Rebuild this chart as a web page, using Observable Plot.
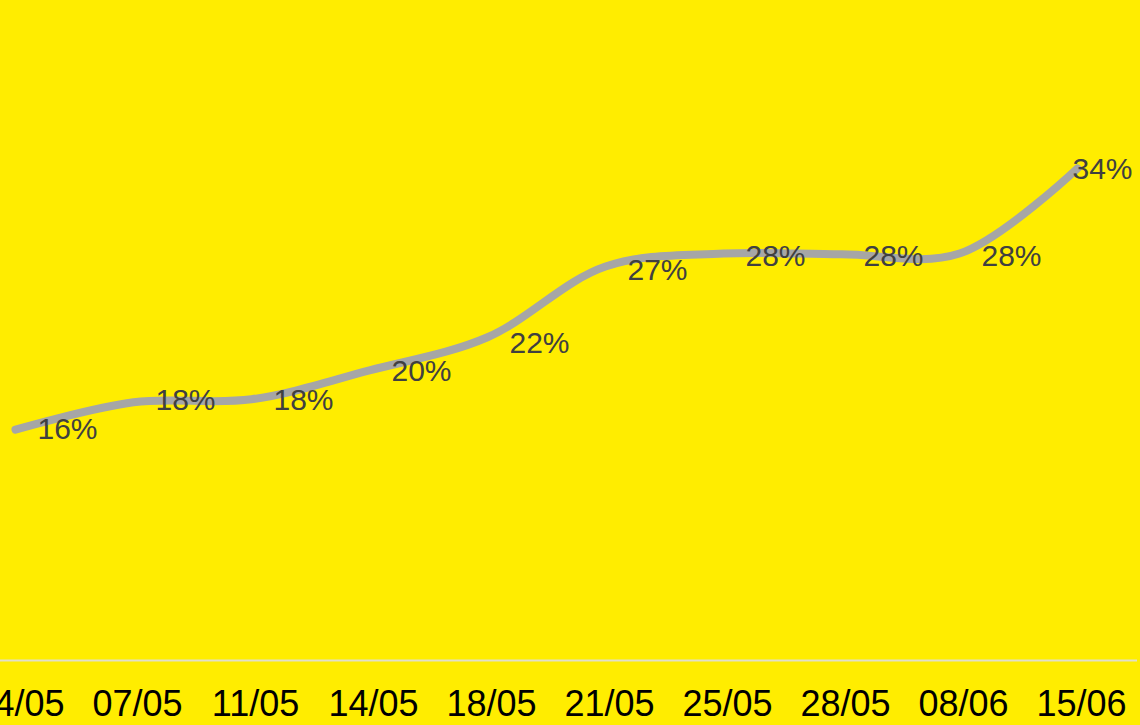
<!DOCTYPE html>
<html>
<head>
<meta charset="utf-8">
<script src="https://cdn.jsdelivr.net/npm/d3@7"></script>
<script src="https://cdn.jsdelivr.net/npm/@observablehq/plot@0.6"></script>
<style>
  html, body { margin: 0; padding: 0; background: #ffed00; overflow: hidden; }
  #chart { width: 1140px; height: 725px; }
</style>
</head>
<body>
<div id="chart"></div>
<script>
const dates = ["04/05","07/05","11/05","14/05","18/05","21/05","25/05","28/05","08/06","15/06"];
const values = [16.0, 17.9, 18.1, 20.1, 22.4, 27.3, 28.2, 28.15, 28.2, 34.1];
const labels = ["16%","18%","18%","20%","22%","27%","28%","28%","28%","34%"];
const labelValues = [16, 18, 18, 20, 22, 27, 28, 28, 28, 34];

const data = dates.map((d, i) => ({date: d, value: values[i], label: labels[i], labelValue: labelValues[i], i}));
const last = data.length - 1;

const chart = Plot.plot({
  width: 1140,
  height: 725,
  marginLeft: 15,
  marginRight: 63,
  marginTop: 10.6,
  marginBottom: 65,
  style: {background: "#ffed00", fontFamily: "'Liberation Sans', Arial, sans-serif", color: "#000"},
  x: {type: "point", domain: dates, padding: 0},
  y: {domain: [0, 45], axis: null},
  marks: [
    Plot.ruleY([0], {stroke: "#e2e0c8", strokeWidth: 2, insetLeft: -15, insetRight: -60}),
    Plot.axisX({tickSize: 0, tickPadding: 30, fontSize: 36, dx: 4, fill: "#000", label: null}),
    Plot.line(data, {x: "date", y: "value", curve: "catmull-rom", stroke: "#a6a6a6", strokeWidth: 8, strokeLinecap: "round", strokeLinejoin: "round"}),
    Plot.text(data.filter(d => d.i !== last), {x: "date", y: "labelValue", text: "label", textAnchor: "start", dx: 22, fontSize: 30, fill: "#404040"}),
    Plot.text(data.filter(d => d.i === last), {x: "date", y: "labelValue", text: "label", textAnchor: "start", dx: -5, fontSize: 30, fill: "#404040"})
  ]
});
document.getElementById("chart").appendChild(chart);
</script>
</body>
</html>
